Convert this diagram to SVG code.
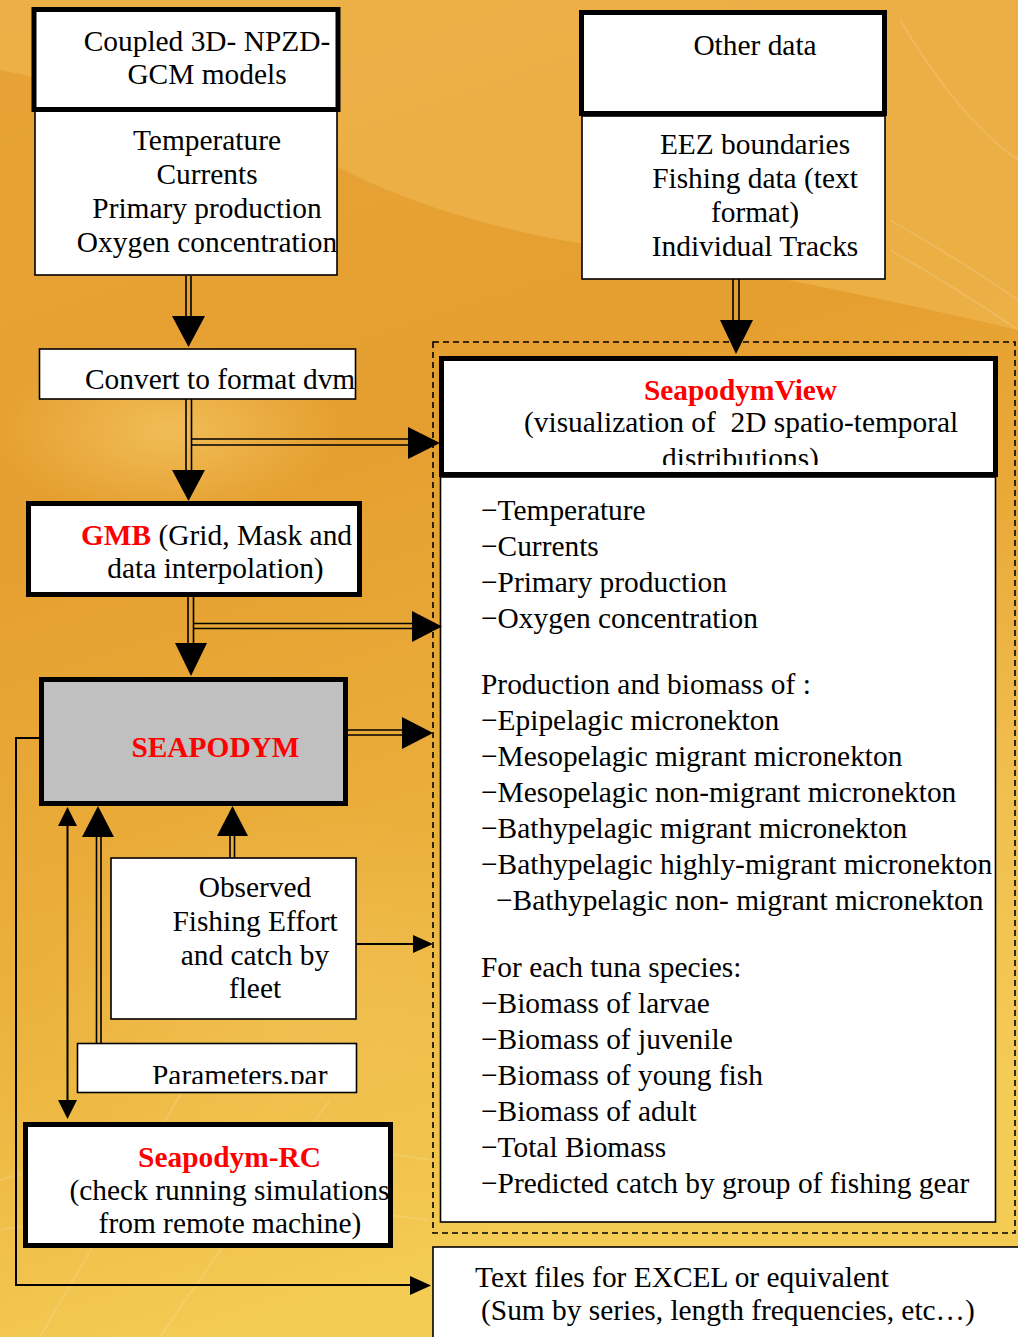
<svg xmlns="http://www.w3.org/2000/svg" width="1018" height="1337" viewBox="0 0 1018 1337">
<style>
  text { font-family: "Liberation Serif", "Times New Roman", serif; font-size: 29.4px; fill: #000; }
  .red { fill: #ff0000; font-weight: bold; }
  .bold { font-weight: bold; }
  .mid { text-anchor: middle; }
  .pre { white-space: pre; }
  .thin { fill: #fff; stroke: #000; stroke-width: 1.6; }
  .thick { fill: #fff; stroke: #000; stroke-width: 5; }
  .dbl { stroke: #000; stroke-width: 1.6; fill: none; }
  .ln { stroke: #000; stroke-width: 2; fill: none; }
  .head { fill: #000; stroke: none; }
  .bg { fill: none; stroke: #ffffff; stroke-opacity: 0.13; stroke-width: 2; }
</style>
<defs>
  <linearGradient id="bgGrad" x1="0" y1="0" x2="0.25" y2="1">
    <stop offset="0" stop-color="#e8a338"/>
    <stop offset="0.4" stop-color="#e59f30"/>
    <stop offset="0.7" stop-color="#ebb03c"/>
    <stop offset="1" stop-color="#f4cc54"/>
  </linearGradient>
  <radialGradient id="glow" cx="0.5" cy="0.5" r="0.5">
    <stop offset="0" stop-color="#f8d070" stop-opacity="0.6"/>
    <stop offset="1" stop-color="#f8d070" stop-opacity="0"/>
  </radialGradient>
  <clipPath id="clipView"><rect x="444" y="361" width="549" height="104"/></clipPath>
  <clipPath id="clipPar"><rect x="79" y="1045" width="276" height="39"/></clipPath>
</defs>

<g id="background">
  <rect x="0" y="0" width="1018" height="1337" fill="url(#bgGrad)"/>
  <path d="M0 0 H1018 V330 Q760 270 560 240 Q430 215 340 168 Q200 110 0 70 Z" fill="#f0bc55" opacity="0.55"/>
  <ellipse cx="170" cy="430" rx="170" ry="90" fill="url(#glow)"/>
  <ellipse cx="300" cy="1000" rx="260" ry="200" fill="url(#glow)" opacity="0.5"/>
  <ellipse cx="1000" cy="800" rx="120" ry="300" fill="url(#glow)" opacity="0.5"/>
  <path class="bg" d="M0 1180 Q200 1120 430 1160 M0 1230 Q220 1190 430 1220 M40 1337 Q120 1200 200 1060 M160 1337 Q240 1220 330 1100 M900 20 Q960 120 1018 160 M890 220 Q960 260 1018 300 M890 250 Q960 290 1018 330"/>
</g>

<g id="container-view">
  <rect x="433" y="342" width="582" height="891" fill="none" stroke="#000" stroke-width="1.6" stroke-dasharray="6,4"/>
</g>

<g id="node-coupled">
  <rect class="thin" x="35" y="110" width="302" height="165"/>
  <rect class="thick" x="34" y="9.5" width="304" height="100"/>
  <text class="mid" x="207" y="51">Coupled 3D- NPZD-</text>
  <text class="mid" x="207" y="84">GCM models</text>
  <text class="mid" x="207" y="150">Temperature</text>
  <text class="mid" x="207" y="184">Currents</text>
  <text class="mid" x="207" y="218">Primary production</text>
  <text class="mid" x="207" y="252">Oxygen concentration</text>
</g>

<g id="node-other">
  <rect class="thin" x="582" y="116" width="303" height="163"/>
  <rect class="thick" x="581.5" y="12.5" width="303" height="101"/>
  <text class="mid" x="755" y="55">Other data</text>
  <text class="mid" x="755" y="154">EEZ boundaries</text>
  <text class="mid" x="755" y="188">Fishing data (text</text>
  <text class="mid" x="755" y="222">format)</text>
  <text class="mid" x="755" y="256">Individual Tracks</text>
</g>

<g id="node-convert">
  <rect class="thin" x="39.5" y="349" width="316" height="50"/>
  <text x="85" y="389">Convert to format dvm</text>
</g>

<g id="node-gmb">
  <rect class="thick" x="28.5" y="503.5" width="331" height="91"/>
  <text x="81" y="545"><tspan class="red">GMB</tspan> (Grid, Mask and</text>
  <text class="mid" x="215.5" y="578">data interpolation)</text>
</g>

<g id="node-seapodym">
  <rect x="41.5" y="679.5" width="304" height="124" fill="#c0c0c0" stroke="#000" stroke-width="5"/>
  <text class="mid red" x="215.5" y="757">SEAPODYM</text>
</g>

<g id="node-observed">
  <rect class="thin" x="111" y="858" width="245" height="161"/>
  <text class="mid" x="255" y="897">Observed</text>
  <text class="mid" x="255" y="931">Fishing Effort</text>
  <text class="mid" x="255" y="965">and catch by</text>
  <text class="mid" x="255" y="998">fleet</text>
</g>

<g id="node-parameters">
  <rect class="thin" x="77.5" y="1043.5" width="279" height="49"/>
  <text x="152" y="1085" clip-path="url(#clipPar)">Parameters.par</text>
</g>

<g id="node-rc">
  <rect class="thick" x="25.5" y="1124.5" width="365" height="121"/>
  <text class="mid red" x="229.5" y="1167">Seapodym-RC</text>
  <text class="mid" x="229.5" y="1200">(check running simulations</text>
  <text class="mid" x="230" y="1233">from remote machine)</text>
</g>

<g id="node-view">
  <rect class="thin" x="440.5" y="477" width="555" height="745"/>
  <rect class="thick" x="441.5" y="358.5" width="554" height="116"/>
  <text class="mid red" x="740.5" y="400">SeapodymView</text>
  <text class="pre" x="524" y="432">(visualization of  2D spatio-temporal</text>
  <text class="mid" x="740.5" y="468" clip-path="url(#clipView)">distributions)</text>
  <text x="481" y="520">−Temperature</text>
  <text x="481" y="556">−Currents</text>
  <text x="481" y="592">−Primary production</text>
  <text x="481" y="628">−Oxygen concentration</text>
  <text x="481" y="694">Production and biomass of :</text>
  <text x="481" y="730">−Epipelagic micronekton</text>
  <text x="481" y="766">−Mesopelagic migrant micronekton</text>
  <text x="481" y="802">−Mesopelagic non-migrant micronekton</text>
  <text x="481" y="838">−Bathypelagic migrant micronekton</text>
  <text x="481" y="874">−Bathypelagic highly-migrant micronekton</text>
  <text x="496" y="910">−Bathypelagic non- migrant micronekton</text>
  <text x="481" y="977">For each tuna species:</text>
  <text x="481" y="1013">−Biomass of larvae</text>
  <text x="481" y="1049">−Biomass of juvenile</text>
  <text x="481" y="1085">−Biomass of young fish</text>
  <text x="481" y="1121">−Biomass of adult</text>
  <text x="481" y="1157">−Total Biomass</text>
  <text x="481" y="1193">−Predicted catch by group of fishing gear</text>
</g>

<g id="node-textfiles">
  <rect class="thin" x="433" y="1247" width="600" height="110"/>
  <text x="475" y="1287">Text files for EXCEL or equivalent</text>
  <text x="481" y="1320">(Sum by series, length frequencies, etc…)</text>
</g>

<g id="connectors">
  <path class="dbl" d="M186 276 V316 M191 276 V316"/>
  <polygon class="head" points="172,316 205,316 188.5,347"/>
  <path class="dbl" d="M186 399 V470 M191.5 399 V470"/>
  <polygon class="head" points="172,470 205,470 188.5,501"/>
  <path class="dbl" d="M191.5 439 H408 M191.5 445 H408"/>
  <polygon class="head" points="408,427 408,459 440,443"/>
  <path class="dbl" d="M188 597 V643 M193.5 597 V643"/>
  <polygon class="head" points="175,643 207,643 191,676"/>
  <path class="dbl" d="M193.5 623.5 H412 M193.5 628.5 H412"/>
  <polygon class="head" points="412,611 412,642 442,626.5"/>
  <path class="dbl" d="M733 279 V320 M739 279 V320"/>
  <polygon class="head" points="720,320 753,320 736,354"/>
  <path class="dbl" d="M348 730 H402 M348 735 H402"/>
  <polygon class="head" points="402,717 402,749 433,733"/>
  <polyline class="ln" points="41,738 16,738 16,1285 412,1285"/>
  <polygon class="head" points="410,1276 410,1295 431,1285.5"/>
  <line class="ln" x1="67.5" y1="825" x2="67.5" y2="1101"/>
  <polygon class="head" points="58,826 77,826 67.5,807"/>
  <polygon class="head" points="58,1100 77,1100 67.5,1119"/>
  <path class="dbl" d="M96.5 1043 V837 M101 1043 V837"/>
  <polygon class="head" points="82,837 114,837 98,806"/>
  <path class="dbl" d="M230 858 V836 M234.5 858 V836"/>
  <polygon class="head" points="217,836 248,836 232.5,806"/>
  <line class="ln" x1="356" y1="944" x2="414" y2="944"/>
  <polygon class="head" points="413,935 413,953 433,944"/>
</g>
</svg>
